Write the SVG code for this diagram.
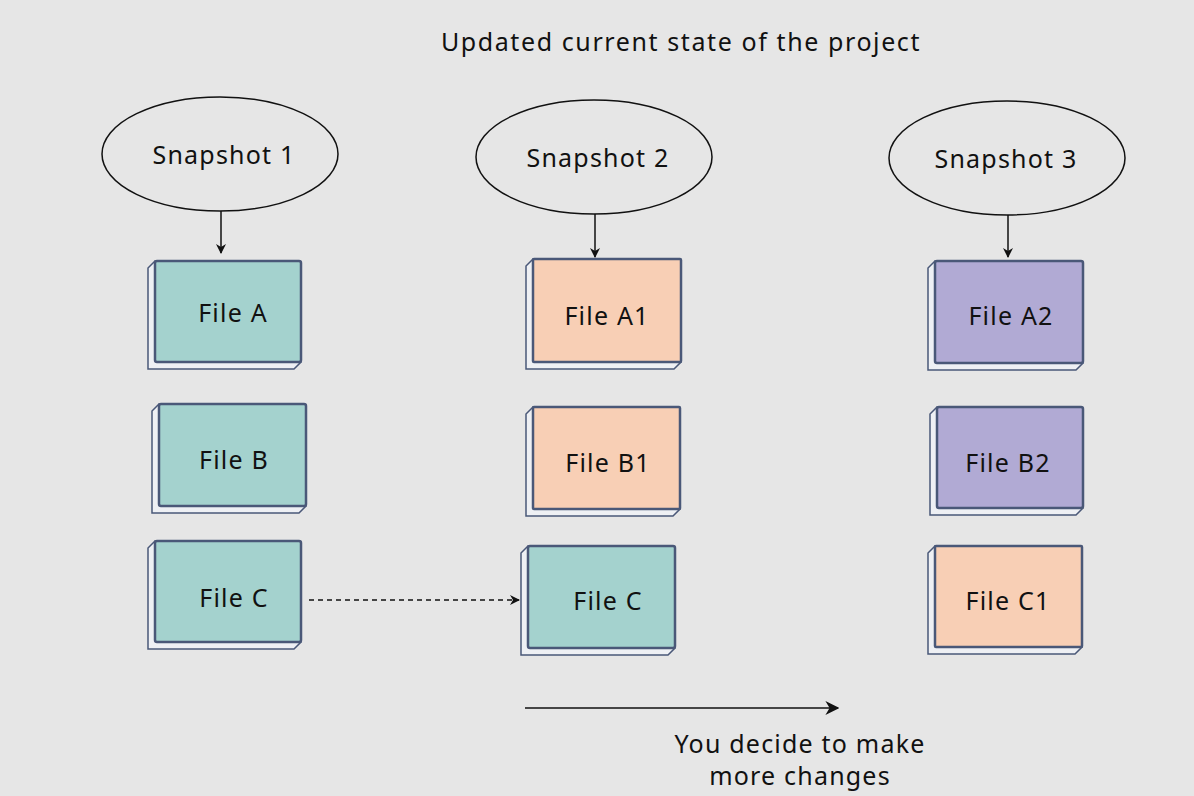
<svg xmlns="http://www.w3.org/2000/svg" width="1194" height="796" viewBox="0 0 1194 796">
<defs>
<style>
text{font-family:"Comic Sans MS","Noto Sans","DejaVu Sans",sans-serif;fill:#111;text-anchor:middle;dominant-baseline:central;font-size:25px;letter-spacing:1.2px}
.t{font-size:25px}
.e{fill:none;stroke:#111;stroke-width:1.5}
.side{fill:#eef0f4;stroke:#4a5878;stroke-width:1.5}
.face{stroke:#4a5878;stroke-width:2.5}
.teal{fill:#a4d2ce}
.peach{fill:#f8cfb5}
.purple{fill:#b1aad4}
.c{stroke:#111;stroke-width:1.5;fill:none}
</style>
<marker id="ah" viewBox="0 0 10 10" refX="9" refY="5" markerWidth="10" markerHeight="10" markerUnits="userSpaceOnUse" orient="auto"><path d="M0,0 L10,5 L0,10 L3,5 Z" fill="#111"/></marker>
<marker id="ah2" viewBox="0 0 10 10" refX="9" refY="5" markerWidth="14" markerHeight="14" markerUnits="userSpaceOnUse" orient="auto"><path d="M0,0 L10,5 L0,10 L3,5 Z" fill="#111"/></marker>
</defs>
<rect width="1194" height="796" fill="#e6e6e6"/>
<text x="681" y="41" style="letter-spacing:1.6px">Updated current state of the project</text>

<g id="snap1"><ellipse class="e" cx="220" cy="154" rx="118" ry="57"/><text class="t" x="224" y="154">Snapshot 1</text></g>
<g id="snap2"><ellipse class="e" cx="594" cy="157" rx="118" ry="57"/><text class="t" x="598" y="157">Snapshot 2</text></g>
<g id="snap3"><ellipse class="e" cx="1007" cy="158" rx="118" ry="57"/><text class="t" x="1006" y="158">Snapshot 3</text></g>

<g id="fileA"><path class="side" d="M155,261 L148,268 L148,369 L294,369 L301,362 Z"/><rect class="face teal" x="155" y="261" width="146" height="101" rx="2"/><text class="t" x="233" y="312">File A</text></g>
<g id="fileB"><path class="side" d="M159,404 L152,411 L152,513 L299,513 L306,506 Z"/><rect class="face teal" x="159" y="404" width="147" height="102" rx="2"/><text class="t" x="234" y="459">File B</text></g>
<g id="fileC"><path class="side" d="M155,541 L148,548 L148,649 L294,649 L301,642 Z"/><rect class="face teal" x="155" y="541" width="146" height="101" rx="2"/><text class="t" x="234" y="597">File C</text></g>

<g id="fileA1"><path class="side" d="M533,259 L526,266 L526,369 L674,369 L681,362 Z"/><rect class="face peach" x="533" y="259" width="148" height="103" rx="1"/><text class="t" x="607" y="315">File A1</text></g>
<g id="fileB1"><path class="side" d="M533,407 L526,414 L526,516 L673,516 L680,509 Z"/><rect class="face peach" x="533" y="407" width="147" height="102" rx="1"/><text class="t" x="608" y="462">File B1</text></g>
<g id="fileC2"><path class="side" d="M528,546 L521,553 L521,655 L668,655 L675,648 Z"/><rect class="face teal" x="528" y="546" width="147" height="102" rx="2"/><text class="t" x="608" y="600">File C</text></g>

<g id="fileA2"><path class="side" d="M935,261 L928,268 L928,370 L1076,370 L1083,363 Z"/><rect class="face purple" x="935" y="261" width="148" height="102" rx="2"/><text class="t" x="1011" y="315">File A2</text></g>
<g id="fileB2"><path class="side" d="M937,407 L930,414 L930,515 L1076,515 L1083,508 Z"/><rect class="face purple" x="937" y="407" width="146" height="101" rx="2"/><text class="t" x="1008" y="462">File B2</text></g>
<g id="fileC1"><path class="side" d="M935,546 L928,553 L928,654 L1075,654 L1082,647 Z"/><rect class="face peach" x="935" y="546" width="147" height="101" rx="1"/><text class="t" x="1008" y="600">File C1</text></g>

<g id="connectors">
<line class="c" x1="221" y1="211" x2="221" y2="253" marker-end="url(#ah)"/>
<line class="c" x1="595" y1="214" x2="595" y2="257" marker-end="url(#ah)"/>
<line class="c" x1="1008" y1="215" x2="1008" y2="257" marker-end="url(#ah)"/>
<line class="c" x1="309" y1="600" x2="519" y2="600" stroke-dasharray="5,4" marker-end="url(#ah)"/>
<line class="c" x1="525" y1="708" x2="838" y2="708" marker-end="url(#ah2)"/>
</g>
<text x="800" y="743">You decide to make</text>
<text x="800" y="775">more changes</text>
</svg>
